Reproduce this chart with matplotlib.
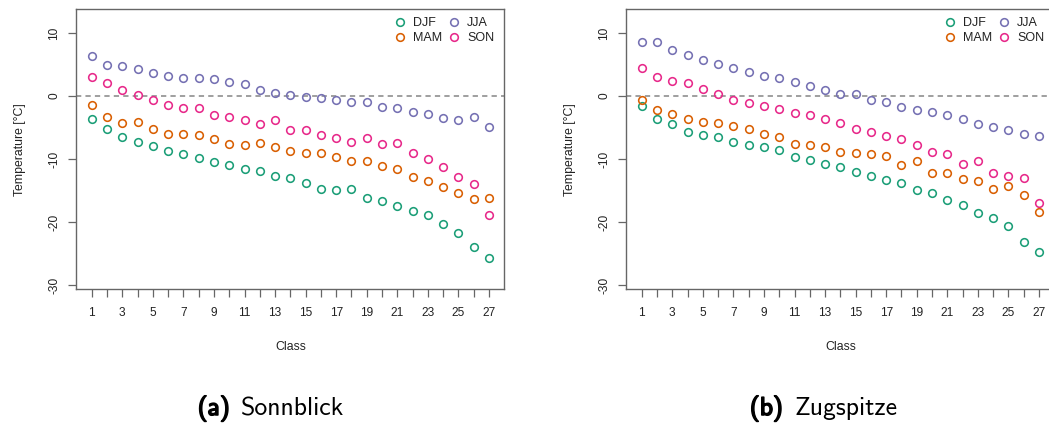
import matplotlib
matplotlib.use("Agg")
import matplotlib.pyplot as plt
import matplotlib.patheffects as pe

# Mean temperature per weather-type class and season
classes = list(range(1, 28))
seasons = ["DJF", "MAM", "JJA", "SON"]
season_colors = ["#1B9E77", "#D95F02", "#7570B3", "#E7298A"]

sonnblick_djf = [-3.6, -5.2, -6.5, -7.35, -7.95, -8.75, -9.25, -9.75, -10.5, -10.9,
                 -11.55, -11.9, -12.65, -13.05, -13.8, -14.8, -14.95, -14.8, -16.2,
                 -16.7, -17.5, -18.25, -18.9, -20.25, -21.8, -24.0, -25.7]
sonnblick_mam = [-1.45, -3.3, -4.2, -4.15, -5.15, -5.95, -6.0, -6.1, -6.85, -7.65,
                 -7.7, -7.5, -8.15, -8.7, -9.0, -9.05, -9.65, -10.3, -10.3, -11.15,
                 -11.6, -12.9, -13.4, -14.4, -15.45, -16.3, -16.2]
sonnblick_jja = [6.35, 5.0, 4.8, 4.3, 3.65, 3.2, 2.85, 2.95, 2.75, 2.2, 1.95, 1.05,
                 0.55, 0.2, -0.15, -0.3, -0.55, -0.85, -0.95, -1.65, -1.9, -2.55,
                 -2.85, -3.45, -3.85, -3.3, -4.9]
sonnblick_son = [3.05, 2.05, 1.05, 0.15, -0.55, -1.45, -1.9, -1.8, -3.0, -3.35, -3.8,
                 -4.4, -3.8, -5.35, -5.45, -6.2, -6.6, -7.25, -6.65, -7.65, -7.45,
                 -8.95, -10.0, -11.25, -12.85, -14.0, -18.8]

zugspitze_djf = [-1.6, -3.6, -4.4, -5.7, -6.2, -6.5, -7.25, -7.8, -8.05, -8.55, -9.6,
                 -10.1, -10.7, -11.3, -12.1, -12.75, -13.3, -13.8, -14.9, -15.45,
                 -16.45, -17.35, -18.6, -19.3, -20.6, -23.2, -24.7]
zugspitze_mam = [-0.55, -2.25, -2.85, -3.6, -4.05, -4.25, -4.7, -5.2, -6.0, -6.5,
                 -7.65, -7.8, -8.1, -8.85, -9.0, -9.15, -9.45, -11.0, -10.3, -12.15,
                 -12.25, -13.2, -13.5, -14.75, -14.3, -15.65, -18.4]
zugspitze_jja = [8.6, 8.6, 7.35, 6.6, 5.75, 5.15, 4.5, 3.9, 3.25, 2.95, 2.3, 1.65,
                 1.05, 0.35, 0.35, -0.6, -0.95, -1.65, -2.2, -2.5, -3.0, -3.7, -4.45,
                 -4.9, -5.45, -6.0, -6.3]
zugspitze_son = [4.5, 3.0, 2.4, 2.05, 1.15, 0.3, -0.6, -1.05, -1.6, -2.1, -2.65, -3.0,
                 -3.7, -4.3, -5.15, -5.75, -6.3, -6.75, -7.8, -8.9, -9.2, -10.7, -10.3,
                 -12.15, -12.65, -13.0, -16.9]

yticks = [-30, -20, -10, 0, 10]
xtick_labels = [str(c) if c % 2 == 1 else "" for c in classes]

stations = [
    ("(a)", "Sonnblick", [sonnblick_djf, sonnblick_mam, sonnblick_jja, sonnblick_son]),
    ("(b)", "Zugspitze", [zugspitze_djf, zugspitze_mam, zugspitze_jja, zugspitze_son]),
]

plt.rcParams["font.family"] = ["Liberation Sans", "DejaVu Sans"]
plt.rcParams["lines.scale_dashes"] = False

W, H = 1049, 423
fig = plt.figure(figsize=(W / 100, H / 100), dpi=100)

spine_col = "#666666"
text_col = "#222222"

ax_left_px = [76.4, 626.4]
ax_w_px = 427.9
ax_top_px, ax_bot_px = 9.3, 289.0
ylabel_offset_px = 56.4   # distance of the y-axis title centre left of the axis

caption_px = [(230, 240.7), (783, 795)]

for i, (tag, name, series) in enumerate(stations):
    ax = fig.add_axes([ax_left_px[i] / W, 1 - ax_bot_px / H,
                       ax_w_px / W, (ax_bot_px - ax_top_px) / H])
    ax.axhline(0, color="#858585", lw=1.1, dashes=(3.8, 3.0), zorder=1)
    for vals, lab, col in zip(series, seasons, season_colors):
        ax.plot(classes, vals, ls="none", marker="o", ms=5.5, mew=1.15,
                mfc="none", mec=col, label=lab, zorder=3)

    ax.set_xlim(0, 28)
    ax.set_ylim(-30.63, 13.8)
    ax.set_xticks(classes)
    ax.set_xticklabels(xtick_labels)
    ax.set_yticks(yticks)
    ax.set_yticklabels([str(v) for v in yticks])

    for s in ax.spines.values():
        s.set_color(spine_col)
        s.set_linewidth(1.0)
    ax.tick_params(axis="both", direction="out", length=5.8, width=0.9,
                   color=spine_col, labelcolor=text_col, labelsize=8.6)
    ax.tick_params(axis="x", pad=7)
    ax.tick_params(axis="y", pad=6)
    for t in ax.get_yticklabels():
        t.set_rotation(90)
        t.set_va("center")
        t.set_ha("right")

    ax.set_xlabel("Class", fontsize=8.8, color=text_col)
    ax.set_ylabel("Temperature [°C]", fontsize=8.8, color=text_col)
    ax.xaxis.set_label_coords(0.5, (ax_bot_px - 347) / (ax_bot_px - ax_top_px))
    ax.xaxis.label.set_va("center")
    ax.yaxis.set_label_coords(-ylabel_offset_px / ax_w_px, 0.5)
    ax.yaxis.label.set_va("center")

    handles, labels = ax.get_legend_handles_labels()
    ax.legend(handles, labels, ncol=2, frameon=False, loc="upper left",
              bbox_to_anchor=((393.75 - 76.4) / ax_w_px, 0.972),
              borderpad=0, borderaxespad=0, handlelength=1.0,
              handletextpad=0.52, columnspacing=0.5, labelspacing=0.22,
              fontsize=9, labelcolor=text_col)

    xr, xl = caption_px[i]
    fig.text(xr / W, 1 - 415 / H, tag, ha="right", va="baseline",
             family="cmss10", fontsize=18.5, color="black",
             path_effects=[pe.withStroke(linewidth=1.1, foreground="black")])
    fig.text(xl / W, 1 - 415 / H, name, ha="left", va="baseline",
             family="cmss10", fontsize=18.5, color="black")

fig.savefig("out.png", dpi=100)
